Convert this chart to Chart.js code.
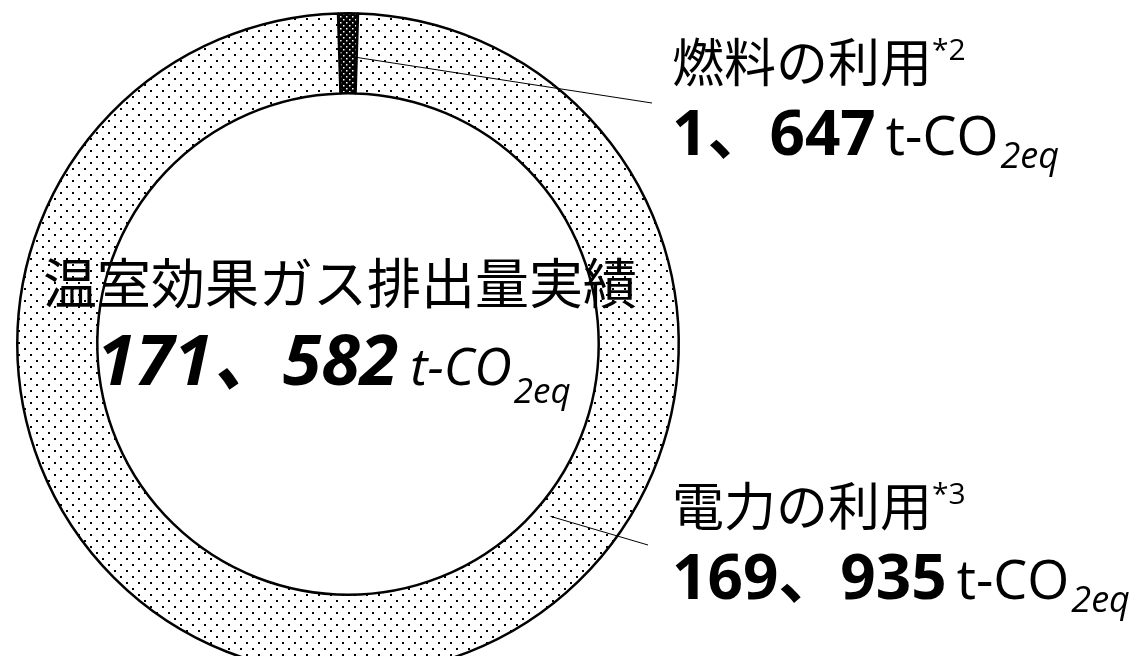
<!DOCTYPE html>
<html lang="ja">
<head>
<meta charset="utf-8">
<script src="https://cdn.jsdelivr.net/npm/chart.js@4.4.1/dist/chart.umd.min.js"></script>
<style>
  html, body { margin: 0; padding: 0; background: #fff; overflow: hidden; }
  #wrap { position: relative; width: 1134px; height: 700px; }
</style>
</head>
<body>
<div id="wrap"><canvas id="ghgChart"></canvas></div>
<script>
// values (t-CO2eq)
const categories = ['燃料の利用', '電力の利用'];
const notes = ['*2', '*3'];
const values = [1647, 169935];
const valueLabels = ['1、647', '169、935'];
const totalTitle = '温室効果ガス排出量実績';
const totalLabel = '171、582';

const JP = '"Noto Sans CJK JP", "Noto Sans", sans-serif';
const NUM = '"Open Sans", "Noto Sans CJK JP", sans-serif';

function dotPattern(size, dots, bg, fg, dot) {
  const c = document.createElement('canvas');
  c.width = size; c.height = size;
  const g = c.getContext('2d');
  g.fillStyle = bg;
  g.fillRect(0, 0, size, size);
  g.fillStyle = fg;
  dots.forEach(([x, y]) => g.fillRect(x, y, dot, dot));
  return g.createPattern(c, 'repeat');
}

const lightDots = dotPattern(12, [[0, 0], [6, 6]], '#fff', '#000', 2);
const darkDots = dotPattern(6, [[1, 1], [4, 4]], '#000', '#fff', 1.5);

const total = values.reduce((a, b) => a + b, 0);
const firstShare = values[0] / total * 360;

// draw a row of text pieces one after another
function drawRuns(ctx, x, y, runs) {
  runs.forEach(r => {
    ctx.font = r.font;
    ctx.fillText(r.text, x, y + (r.dy || 0));
    x += ctx.measureText(r.text).width + (r.gap || 0);
  });
}

const labelPlugin = {
  id: 'labels',
  afterDraw(chart) {
    const ctx = chart.ctx;
    const arcs = chart.getDatasetMeta(0).data;
    ctx.save();
    ctx.fillStyle = '#000';
    ctx.textAlign = 'left';
    ctx.textBaseline = 'alphabetic';

    // leader lines
    ctx.strokeStyle = '#000';
    ctx.lineWidth = 1;
    const anchors = [
      { arc: arcs[0], angle: arcs[0].endAngle, t: 0.45, to: [652, 103] },
      { arc: arcs[1], angle: 40.4 * Math.PI / 180, t: 0.19, to: [648, 545] }
    ];
    anchors.forEach(a => {
      const p = a.arc.getProps(['x', 'y', 'innerRadius', 'outerRadius'], true);
      const r = p.innerRadius + (p.outerRadius - p.innerRadius) * a.t;
      ctx.beginPath();
      ctx.moveTo(p.x + Math.cos(a.angle) * r, p.y + Math.sin(a.angle) * r);
      ctx.lineTo(a.to[0], a.to[1]);
      ctx.stroke();
    });

    // center text
    ctx.font = '400 54px ' + JP;
    ctx.fillText(totalTitle, 43, 304);
    drawRuns(ctx, 97, 385, [
      { text: totalLabel, font: 'italic 700 70px ' + NUM, gap: 12 },
      { text: 't-CO', font: 'italic 400 52px ' + NUM, gap: 2 },
      { text: '2eq', font: 'italic 400 35px ' + NUM, dy: 18 }
    ]);

    // right labels
    const rows = [82, 526];
    rows.forEach((y, i) => {
      drawRuns(ctx, 672, y, [
        { text: categories[i], font: '400 52px ' + JP, gap: 0 },
        { text: notes[i], font: '400 30px ' + NUM, dy: -22 }
      ]);
      drawRuns(ctx, 672, y + 73, [
        { text: valueLabels[i], font: '700 62px ' + NUM, gap: 10 },
        { text: 't-CO', font: '400 54px ' + NUM, gap: 2 },
        { text: '2eq', font: 'italic 400 36px ' + NUM, dy: 13 }
      ]);
    });
    ctx.restore();
  }
};

new Chart(document.getElementById('ghgChart'), {
  type: 'doughnut',
  data: {
    labels: categories,
    datasets: [{
      data: values,
      backgroundColor: [darkDots, lightDots],
      borderColor: '#000',
      borderWidth: 2.5
    }]
  },
  options: {
    responsive: true,
    maintainAspectRatio: false,
    animation: false,
    events: [],
    cutout: '75.8%',
    rotation: -firstShare / 2,
    layout: { padding: { left: 16, top: 12, right: 454, bottom: 24 } },
    plugins: {
      legend: { display: false },
      tooltip: { enabled: false }
    }
  },
  plugins: [labelPlugin]
});
</script>
</body>
</html>
